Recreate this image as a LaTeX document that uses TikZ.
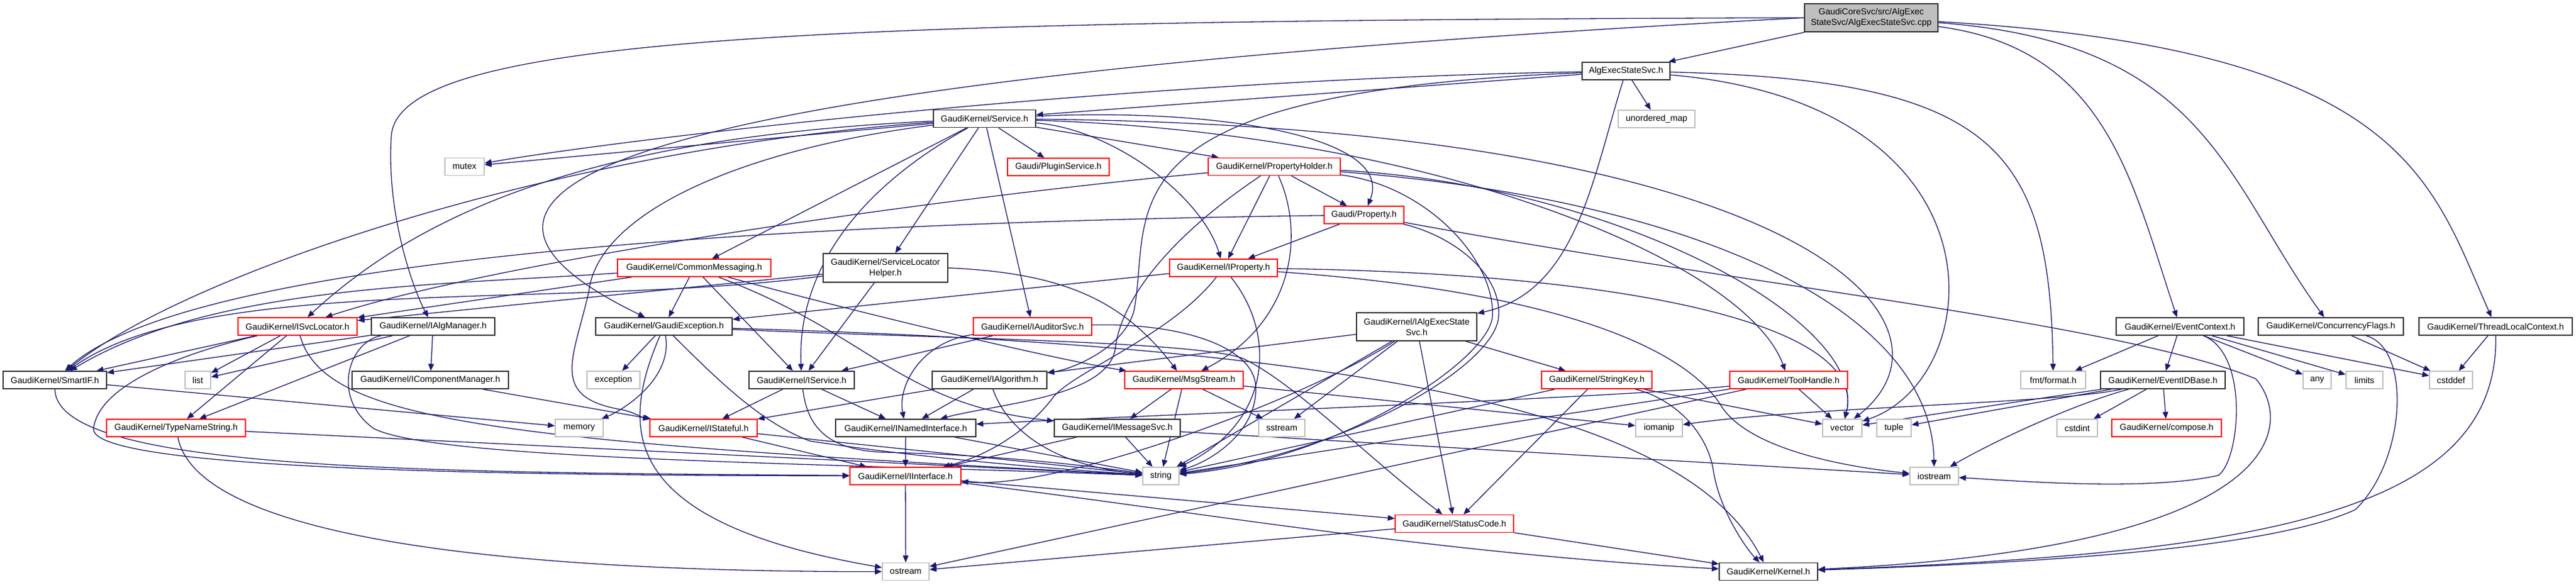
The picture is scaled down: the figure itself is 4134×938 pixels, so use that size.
\documentclass[tikz,border=0pt]{standalone}
\usepackage{fontspec}
\setmainfont{Liberation Sans}
\usetikzlibrary{arrows.meta,backgrounds}
\definecolor{edgeblue}{RGB}{25,25,112}
\definecolor{sysgrey}{RGB}{191,191,191}
\definecolor{rootgrey}{RGB}{191,191,191}

\begin{document}
\begin{tikzpicture}[x=0.5pt, y=0.5pt,
    hdr/.style={draw=black!80, fill=white, line width=0.8pt, inner sep=0pt,
        minimum height=14pt, align=center, font=\fontsize{7}{8.5}\selectfont},
    trunc/.style={hdr, draw=red},
    sys/.style={hdr, draw=sysgrey},
    root/.style={hdr, fill=rootgrey},
    dep/.style={draw=edgeblue, line width=0.65pt, -{Triangle[length=5.5pt,width=4.5pt]}}]

\useasboundingbox (0,0) rectangle (4134,938);

% Top level
\node[root, minimum width=107pt, minimum height=22.5pt] (cpp) at (3003,909.5) {GaudiCoreSvc/src/AlgExec\\StateSvc/AlgExecStateSvc.cpp};
\node[hdr, minimum width=70.5pt] (aes) at (2609.5,824) {AlgExecStateSvc.h};
\node[hdr, minimum width=82pt] (service) at (1580,747.5) {GaudiKernel/Service.h};
\node[sys, minimum width=61.5pt] (umap) at (2658.5,747) {unordered\_map};
\node[sys, minimum width=31.5pt] (mutex) at (745.5,670.5) {mutex};
\node[trunc, minimum width=81.5pt] (plugin) at (1698.5,670) {Gaudi/PluginService.h};
\node[trunc, minimum width=106pt] (pholder) at (2045,670.5) {GaudiKernel/PropertyHolder.h};
\node[trunc, minimum width=64pt] (gprop) at (2189,593) {Gaudi/Property.h};

% Second level
\node[trunc, minimum width=123pt] (cmsg) at (1114,508) {GaudiKernel/CommonMessaging.h};
\node[hdr, minimum width=100pt, minimum height=23pt] (slhelper) at (1421,508) {GaudiKernel/ServiceLocator\\Helper.h};
\node[trunc, minimum width=86.5pt] (iprop) at (1963.5,508) {GaudiKernel/IProperty.h};

\node[trunc, minimum width=95.5pt] (isvcloc) at (477.5,414) {GaudiKernel/ISvcLocator.h};
\node[hdr, minimum width=99pt] (ialgmgr) at (695,414) {GaudiKernel/IAlgManager.h};
\node[hdr, minimum width=109.5pt] (gexc) at (1065.5,414) {GaudiKernel/GaudiException.h};
\node[trunc, minimum width=95pt] (iaud) at (1657,414) {GaudiKernel/IAuditorSvc.h};
\node[hdr, minimum width=96.5pt, minimum height=22.5pt] (iaes) at (2273.5,413.5) {GaudiKernel/IAlgExecState\\Svc.h};
\node[hdr, minimum width=102.5pt] (evctx) at (3498.5,414) {GaudiKernel/EventContext.h};
\node[hdr, minimum width=116.5pt] (conc) at (3740.5,414) {GaudiKernel/ConcurrencyFlags.h};
\node[hdr, minimum width=123pt] (tlc) at (4005,414) {GaudiKernel/ThreadLocalContext.h};

% Middle row
\node[hdr, minimum width=83pt] (smartif) at (88,328) {GaudiKernel/SmartIF.h};
\node[sys, minimum width=20.5pt] (list) at (317.5,328) {list};
\node[hdr, minimum width=125.5pt] (icompmgr) at (690.5,328) {GaudiKernel/IComponentManager.h};
\node[sys, minimum width=42.5pt] (exception) at (984.5,328) {exception};
\node[hdr, minimum width=84.5pt] (iserv) at (1286.5,328) {GaudiKernel/IService.h};
\node[hdr, minimum width=92pt] (ialgo) at (1588,328) {GaudiKernel/IAlgorithm.h};
\node[trunc, minimum width=95pt] (msgstream) at (1900,328) {GaudiKernel/MsgStream.h};
\node[trunc, minimum width=88.5pt] (stringkey) at (2562.5,328) {GaudiKernel/StringKey.h};
\node[trunc, minimum width=94.5pt] (toolh) at (2870.5,328) {GaudiKernel/ToolHandle.h};
\node[sys, minimum width=52pt] (fmt) at (3295,328) {fmt/format.h};
\node[hdr, minimum width=100pt] (evid) at (3471,328) {GaudiKernel/EventIDBase.h};
\node[sys, minimum width=22.5pt] (any) at (3718.5,328) {any};
\node[sys, minimum width=29.5pt] (limits) at (3794.5,328) {limits};
\node[sys, minimum width=34.5pt] (cstddef) at (3933.5,328) {cstddef};

\node[trunc, minimum width=111.5pt] (typename) at (282.5,251) {GaudiKernel/TypeNameString.h};
\node[sys, minimum width=38.5pt] (memory) at (929.5,251) {memory};
\node[trunc, minimum width=86pt] (istateful) at (1129,251) {GaudiKernel/IStateful.h};
\node[hdr, minimum width=112.5pt] (inamed) at (1453.5,251) {GaudiKernel/INamedInterface.h};
\node[hdr, minimum width=101pt] (imsgsvc) at (1793,251) {GaudiKernel/IMessageSvc.h};
\node[sys, minimum width=37pt] (sstream) at (2057,251) {sstream};
\node[sys, minimum width=37.5pt] (iomanip) at (2662.5,251) {iomanip};
\node[sys, minimum width=31.5pt] (vector) at (2956.5,251) {vector};
\node[sys, minimum width=27.5pt] (tuple) at (3039.5,251) {tuple};
\node[sys, minimum width=32.5pt] (cstdint) at (3333.5,251) {cstdint};
\node[trunc, minimum width=88pt] (compose) at (3477,251) {GaudiKernel/compose.h};

% Bottom rows
\node[trunc, minimum width=89pt] (iinterface) at (1453,174) {GaudiKernel/IInterface.h};
\node[sys, minimum width=29pt] (string) at (1863,174) {string};
\node[sys, minimum width=39pt] (iostream) at (3104,174) {iostream};
\node[trunc, minimum width=95pt] (statuscode) at (2334,97.5) {GaudiKernel/StatusCode.h};
\node[sys, minimum width=37.5pt] (ostream) at (1453.5,20.5) {ostream};
\node[hdr, minimum width=79pt] (kernel) at (2838,20.5) {GaudiKernel/Kernel.h};

% Includes
\begin{pgfonlayer}{background}
\foreach \s/\t in {cpp/aes, aes/service, aes/umap,
    service/cmsg, service/iaud, service/pholder, service/slhelper,
    service/plugin, service/mutex,
    pholder/gprop, pholder/iprop, gprop/iprop,
    cmsg/gexc, cmsg/iserv, cmsg/isvcloc,
    slhelper/iserv, slhelper/isvcloc, iprop/gexc,
    isvcloc/smartif, isvcloc/list, isvcloc/typename,
    ialgmgr/smartif, ialgmgr/list, ialgmgr/typename, ialgmgr/icompmgr,
    icompmgr/istateful, gexc/exception,
    iaud/iserv, iaes/ialgo, iaes/statuscode, iaes/sstream,
    iaes/stringkey, iaes/string,
    evctx/fmt, evctx/evid, evctx/any, evctx/limits, evctx/cstddef,
    conc/cstddef, tlc/cstddef,
    iserv/istateful, iserv/inamed, ialgo/istateful, ialgo/inamed,
    msgstream/imsgsvc, msgstream/string, msgstream/sstream, msgstream/iomanip,
    stringkey/string, stringkey/statuscode, stringkey/vector,
    toolh/string, toolh/ostream, toolh/vector,
    evid/cstdint, evid/compose, evid/tuple, evid/vector,
    smartif/memory, typename/string, istateful/iinterface, istateful/string,
    inamed/iinterface, inamed/string, imsgsvc/iinterface, imsgsvc/string,
    imsgsvc/iostream, iinterface/ostream, iinterface/statuscode,
    statuscode/ostream, statuscode/kernel}
    \draw[dep] (\s) -- (\t);

% long ones
\draw[dep] (cpp.west) .. controls (1300,905) and (640,880) .. (628,720)
    .. controls (620,600) and (660,480) .. (ialgmgr);
\draw[dep] (cpp.west) .. controls (1000,810) and (600,640) .. (gexc);
\draw[dep] (cpp) .. controls (3380,860) and (3420,650) .. (evctx);
\draw[dep] (cpp) .. controls (3540,870) and (3570,650) .. (conc);
\draw[dep] (cpp) .. controls (3860,860) and (3900,650) .. (tlc);
\draw[dep] (aes) .. controls (1800,810) and (1000,715) .. (mutex);
\draw[dep] (aes) .. controls (2555,650) and (2530,470) .. (iaes);
\draw[dep] (aes) .. controls (1750,790) and (1850,600) .. (1820,440)
    .. controls (1805,380) and (1720,345) .. (ialgo);
\draw[dep] (aes) .. controls (3200,810) and (3290,700) .. (fmt);
\draw[dep] (aes) .. controls (3230,770) and (3190,330) .. (vector);
\draw[dep] (service) .. controls (1950,765) and (2240,720) .. (gprop);
\draw[dep] (service) .. controls (1790,730) and (1930,620) .. (iprop);
\draw[dep] (service) .. controls (1350,620) and (1280,480) .. (iserv);
\draw[dep] (service) .. controls (1200,700) and (960,600) .. (945,470)
    .. controls (920,360) and (880,300) .. (1000,280)
    .. controls (1020,275) and (1030,268) .. (istateful);
\draw[dep] (service) .. controls (1000,720) and (700,620) .. (isvcloc);
\draw[dep] (service) .. controls (900,700) and (300,500) .. (smartif);
\draw[dep] (service) .. controls (2300,725) and (2800,520) .. (toolh);
\draw[dep] (service) .. controls (2900,735) and (3170,420) .. (vector);
\draw[dep] (pholder) .. controls (1500,620) and (800,520) .. (isvcloc);
\draw[dep] (pholder) .. controls (2095,560) and (2075,420) .. (msgstream);
\draw[dep] (pholder) .. controls (1880,560) and (1800,460) .. (1790,380)
    .. controls (1780,300) and (1600,290) .. (inamed);
\draw[dep] (pholder) .. controls (2290,640) and (2400,520) .. (2395,430)
    .. controls (2390,360) and (2150,200) .. (string);
\draw[dep] (pholder) .. controls (2600,640) and (3000,420) .. (vector);
\draw[dep] (pholder) .. controls (2700,620) and (3100,450) .. (iostream);
\draw[dep] (gprop) .. controls (1200,580) and (300,520) .. (smartif);
\draw[dep] (gprop) .. controls (2330,560) and (2410,500) .. (2405,430)
    .. controls (2400,350) and (2160,210) .. (string);
\draw[dep] (gprop) .. controls (2800,480) and (3400,420) .. (3620,330)
    .. controls (3680,260) and (3680,60) .. (kernel);
\draw[dep] (cmsg) .. controls (700,480) and (340,480) .. (smartif);
\draw[dep] (cmsg) .. controls (1400,430) and (1700,360) .. (msgstream);
\draw[dep] (cmsg) .. controls (1400,400) and (1440,290) .. (imsgsvc);
\draw[dep] (slhelper) .. controls (900,440) and (330,500) .. (smartif);
\draw[dep] (slhelper.east) .. controls (1700,500) and (1800,460) .. (msgstream);
\draw[dep] (iprop) .. controls (1880,400) and (1720,340) .. (1690,300)
    .. controls (1660,260) and (1600,210) .. (iinterface);
\draw[dep] (iprop) .. controls (2050,400) and (2040,260) .. (string);
\draw[dep] (iprop) .. controls (2600,500) and (3000,420) .. (vector);
\draw[dep] (iprop) .. controls (2500,470) and (2700,380) .. (2760,290)
    .. controls (2800,220) and (2950,190) .. (iostream);
\draw[dep] (isvcloc) .. controls (330,380) and (160,330) .. (150,250)
    .. controls (145,180) and (900,175) .. (iinterface);
\draw[dep] (isvcloc) .. controls (520,260) and (800,230) .. (string);
\draw[dep] (ialgmgr) .. controls (560,390) and (530,300) .. (600,250)
    .. controls (700,200) and (1300,195) .. (string);
\draw[dep] (gexc) .. controls (1080,330) and (1000,280) .. (memory);
\draw[dep] (gexc) .. controls (1150,330) and (1220,260) .. (1300,230)
    .. controls (1500,200) and (1700,185) .. (string);
\draw[dep] (gexc) .. controls (1500,395) and (1950,390) .. (2000,360)
    .. controls (2080,320) and (2200,200) .. (statuscode);
\draw[dep] (gexc) .. controls (2300,380) and (2720,250) .. (kernel);
\draw[dep] (gexc) .. controls (995,250) and (990,100) .. (ostream);
\draw[dep] (iaud) .. controls (1480,390) and (1440,320) .. (inamed);
\draw[dep] (iaud) .. controls (1900,420) and (2010,380) .. (2015,320)
    .. controls (2020,250) and (1950,200) .. (string);
\draw[dep] (iaes) .. controls (2100,300) and (1700,150) .. (iinterface);
\draw[dep] (evctx) .. controls (3610,370) and (3595,200) .. (3560,175)
    .. controls (3450,150) and (3250,165) .. (iostream);
\draw[dep] (conc) .. controls (3870,380) and (3862,200) .. (3780,120)
    .. controls (3650,60) and (3300,35) .. (kernel);
\draw[dep] (tlc) .. controls (4010,120) and (3650,50) .. (kernel);
\draw[dep] (iserv) .. controls (1295,260) and (1320,215) .. (1420,212)
    .. controls (1600,208) and (1750,190) .. (string);
\draw[dep] (ialgo) .. controls (1620,240) and (1700,190) .. (string);
\draw[dep] (stringkey) .. controls (2680,300) and (2740,250) .. (2750,180)
    .. controls (2760,120) and (2800,60) .. (kernel);
\draw[dep] (toolh) .. controls (2600,300) and (1800,270) .. (inamed);
\draw[dep] (evid) .. controls (3330,290) and (3200,230) .. (iostream);
\draw[dep] (evid) .. controls (3300,290) and (2900,285) .. (iomanip);
\draw[dep] (smartif) .. controls (90,180) and (700,180) .. (iinterface);
\draw[dep] (typename) .. controls (320,60) and (900,20) .. (ostream);
\draw[dep] (iinterface) .. controls (1900,120) and (2300,50) .. (kernel);
\end{pgfonlayer}

\end{tikzpicture}
\end{document}
